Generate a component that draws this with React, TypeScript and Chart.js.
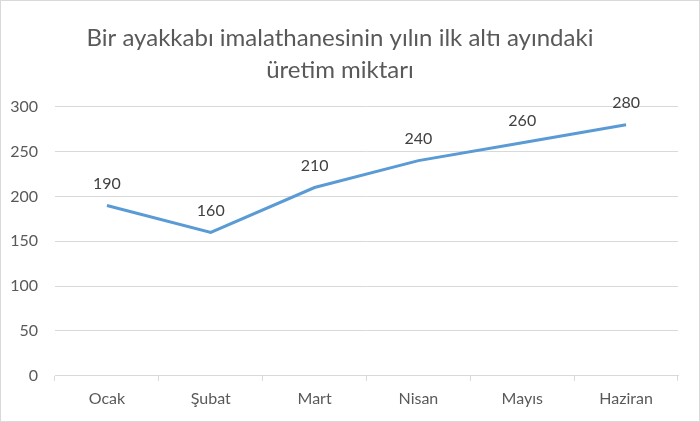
import { useEffect, useRef } from "react"
import { Chart, registerables, Plugin } from "chart.js"

Chart.register(...registerables)

const months = ["Ocak", "Şubat", "Mart", "Nisan", "Mayıs", "Haziran"]
const production = [190, 160, 210, 240, 260, 280]
const titleLines = ["Bir ayakkabı imalathanesinin yılın ilk altı ayındaki", "üretim miktarı"]

const FONT = "Lato, 'Open Sans', sans-serif"
const TEXT = "#595959"

// draws the value above each point
const valueLabels: Plugin<"line"> = {
  id: "valueLabels",
  afterDatasetsDraw(chart) {
    const ctx = chart.ctx
    const meta = chart.getDatasetMeta(0)
    ctx.save()
    ctx.font = `16px ${FONT}`
    ctx.fillStyle = "#404040"
    ctx.textAlign = "center"
    ctx.textBaseline = "middle"
    meta.data.forEach((pt, i) => {
      ctx.fillText(String(production[i]), pt.x, pt.y - 22)
    })
    ctx.restore()
  },
}

export default function App() {
  const chartRef = useRef<HTMLCanvasElement>(null)
  const chartInstance = useRef<Chart | null>(null)

  useEffect(() => {
    document.body.style.margin = "0"
    if (!chartRef.current) return
    if (chartInstance.current) chartInstance.current.destroy()
    const ctx = chartRef.current.getContext("2d")
    if (!ctx) return

    chartInstance.current = new Chart(ctx, {
      type: "line",
      data: {
        labels: months,
        datasets: [
          {
            data: production,
            borderColor: "#5B9BD5",
            borderWidth: 3,
            pointRadius: 0,
            tension: 0,
          },
        ],
      },
      options: {
        animation: false,
        responsive: true,
        maintainAspectRatio: false,
        layout: { padding: { left: 1, right: 21, top: 13, bottom: 5 } },
        plugins: {
          legend: { display: false },
          tooltip: { enabled: false },
          title: {
            display: true,
            text: titleLines,
            color: TEXT,
            font: { family: FONT, size: 24, weight: "normal", lineHeight: 1.33 },
            padding: { top: 8, bottom: 21 },
          },
        },
        scales: {
          x: {
            offset: true,
            grid: {
              offset: true,
              drawOnChartArea: false,
              tickLength: 5,
              color: "#d9d9d9",
            },
            border: { color: "#d9d9d9" },
            ticks: { color: TEXT, font: { family: FONT, size: 16 }, padding: 8 },
          },
          y: {
            min: 0,
            max: 300,
            afterFit: (scale) => {
              scale.width = 53
            },
            ticks: { stepSize: 50, color: TEXT, font: { family: FONT, size: 16 }, padding: 17 },
            grid: { color: "#d9d9d9", drawTicks: false },
            border: { display: false },
          },
        },
      },
      plugins: [valueLabels],
    })

    return () => {
      if (chartInstance.current) chartInstance.current.destroy()
    }
  }, [])

  return (
    <div style={{ width: 700, height: 422, boxSizing: "border-box", border: "1px solid #d9d9d9", background: "#fff" }}>
      <canvas ref={chartRef} />
    </div>
  )
}
